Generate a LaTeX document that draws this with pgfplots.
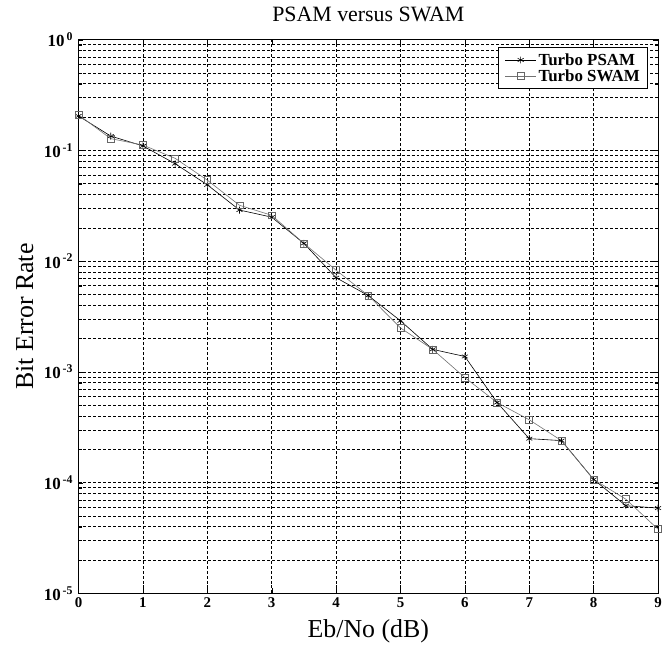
\documentclass[border=0pt]{standalone}
\usepackage{fontspec}
\setmainfont{Liberation Serif}
\usepackage{pgfplots}
\pgfplotsset{compat=1.18}
\begin{document}
\begin{tikzpicture}
\begin{axis}[
    width=583pt, height=557pt, scale only axis,
    xmin=0, xmax=9,
    ymin=1e-5, ymax=1,
    ymode=log,
    xtick={0,1,2,3,4,5,6,7,8,9},
    ytick={1e-5,1e-4,1e-3,1e-2,1e-1,1},
    yticklabels={10\textsuperscript{\,-5},10\textsuperscript{\,-4},10\textsuperscript{\,-3},10\textsuperscript{\,-2},10\textsuperscript{\,-1},10\textsuperscript{\,0}},
    /pgf/number format/assume math mode=true,
    ticklabel style={font=\fontsize{15}{17}\selectfont\bfseries},
    yticklabel style={font=\fontsize{17}{19}\selectfont\bfseries, xshift=-2pt},
    xticklabel style={yshift=-1pt},
    tick align=inside,
    major tick length=5pt, minor tick length=3pt,
    tick style={black, thin},
    grid=both,
    major grid style={densely dashed, black, line width=0.7pt},
    minor grid style={densely dashed, black, line width=0.7pt},
    axis line style={black, line width=1pt},
    title={PSAM versus SWAM},
    title style={font=\fontsize{22}{24}\selectfont, at={(axis description cs:0.5,1.035)}, anchor=center},
    xlabel={Eb/No (dB)},
    ylabel={Bit Error Rate},
    label style={font=\fontsize{26}{28}\selectfont},
    xlabel style={at={(axis description cs:0.5,-0.068)}, anchor=center},
    ylabel style={at={(axis description cs:-0.093,0.5)}, anchor=center, rotate=0},
    legend style={at={(0.983,0.987)}, anchor=north east, draw=black, line width=0.9pt,
        font=\fontsize{17}{19}\selectfont\bfseries, fill=white, cells={anchor=west},
        row sep=-1pt, inner xsep=6pt, inner ysep=4pt},
    legend cell align=left,
    legend image code/.code={
        \draw[#1] (0cm,0cm) -- (1.1cm,0cm);
        \draw[#1, only marks] plot coordinates {(0.55cm,0cm)};
    },
]
\coordinate (sw) at (rel axis cs:0,0);
\coordinate (ne) at (rel axis cs:1,1);
\addplot[black, line width=0.6pt, mark=asterisk, mark size=3.5pt, mark options={solid}]
coordinates {
    (0,0.205)(0.5,0.135)(1,0.11)(1.5,0.076)(2,0.049)(2.5,0.029)(3,0.025)(3.5,0.0145)
    (4,0.0071)(4.5,0.0049)(5,0.0029)(5.5,0.0016)(6,0.00138)(6.5,0.00053)(7,0.00025)
    (7.5,0.00024)(8,0.000107)(8.5,0.000062)(9,0.000059)
};
\addlegendentry{Turbo PSAM}
\addplot[black!55, line width=0.6pt, mark=square, mark size=3.5pt, mark options={solid, black!60}]
coordinates {
    (0,0.21)(0.5,0.128)(1,0.112)(1.5,0.085)(2,0.054)(2.5,0.032)(3,0.026)(3.5,0.0145)
    (4,0.0083)(4.5,0.0049)(5,0.0025)(5.5,0.0016)(6,0.00089)(6.5,0.00053)(7,0.00037)
    (7.5,0.00024)(8,0.000107)(8.5,0.000071)(9,0.000038)
};
\addlegendentry{Turbo SWAM}
\end{axis}
\pgfresetboundingbox
\path ([shift={(-79pt,-57pt)}]sw) rectangle ([shift={(6pt,40pt)}]ne);
\end{tikzpicture}
\end{document}
